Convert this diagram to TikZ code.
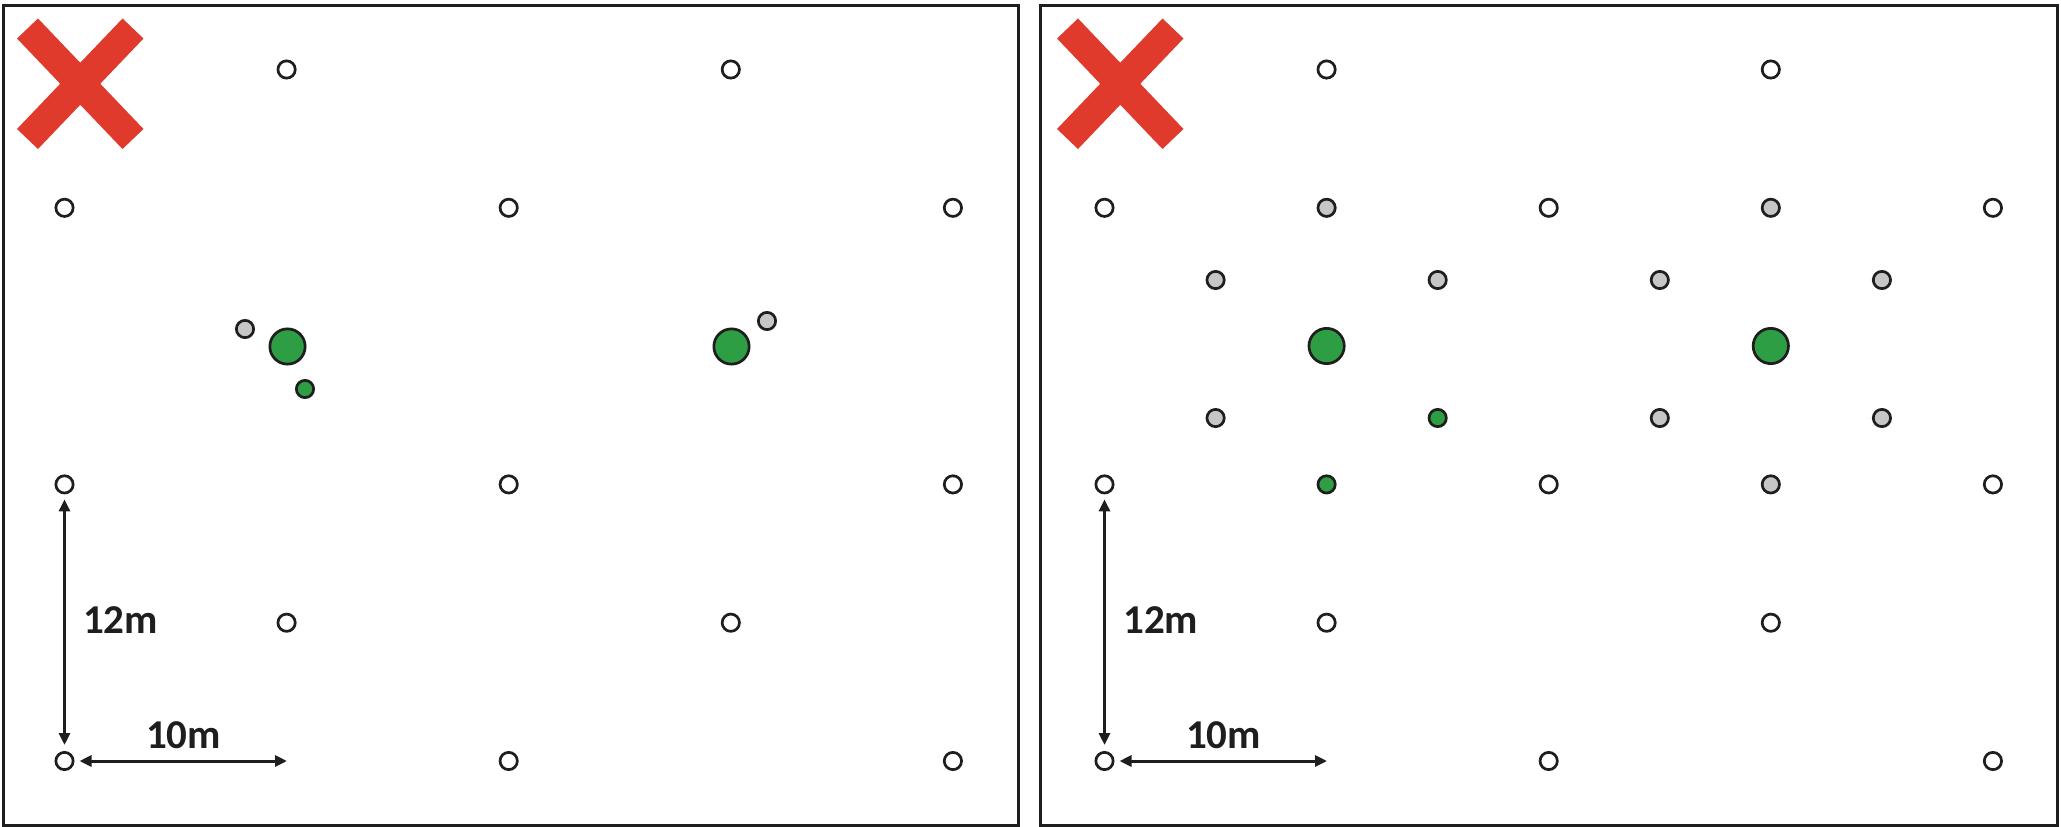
\documentclass[tikz,border=0pt]{standalone}
\usepackage{fontspec}
\setmainfont{Carlito}
\usetikzlibrary{arrows.meta,positioning}
\definecolor{crossred}{HTML}{E03A2C}
\definecolor{treegreen}{HTML}{2E9E45}
\definecolor{stemgray}{HTML}{C6C6C6}
\definecolor{inkdark}{HTML}{1E1E1E}

\begin{document}
\begin{tikzpicture}[x=1pt, y=-1pt,
  frame/.style={draw=inkdark, line width=3pt},
  hole/.style={circle, draw=inkdark, fill=white, line width=2.7pt, inner sep=0pt, minimum size=17.3pt},
  stem/.style={hole, fill=stemgray},
  sapling/.style={hole, fill=treegreen},
  bigtree/.style={hole, fill=treegreen, minimum size=35.3pt},
  dim/.style={{Triangle[length=12pt,width=11pt]}-{Triangle[length=12pt,width=11pt]}, draw=inkdark, line width=3pt},
  dimlabel/.style={font=\fontsize{41}{45}\selectfont\bfseries, text=inkdark, inner sep=0pt},
  nogo/.style={draw=crossred, line width=29pt}]
\useasboundingbox (0,0) rectangle (2061,827);
% two panels
\draw[frame] (3,5) rectangle (1018,825);
\draw[frame] (1040,5) rectangle (2057,825);
\draw[nogo] (27.5,28.5) -- (133,139) (133,28.5) -- (27.5,139);
\draw[nogo] (1067.5,28.5) -- (1173,139) (1173,28.5) -- (1067.5,139);
% left panel: grid holes and the trees
\foreach \c/\r in {1/0,3/0,0/1,2/1,4/1,0/3,2/3,4/3,1/4,3/4,0/5,2/5,4/5}
  \node[hole] (l\c\r) at ({64.5+222.1*\c},{69.5+138.3*\r}) {};
\node[bigtree] (lt1) at (287.5,346.5) {};
\node[bigtree] (lt2) at (731.5,346.5) {};
\node[stem] (ls1) at (245,329) {};
\node[stem] (ls2) at (767,321) {};
\node[sapling] (lg1) at (305,389) {};
% left panel: spacing
\coordinate (lend) at (287,761);
\draw[dim, shorten <=5pt, shorten >=6pt] (l03) -- (l05);
\draw[dim, shorten <=5pt] (l05) -- (lend);
\node[dimlabel, anchor=west] (l12m) at (83,620) {12m};
\node[dimlabel] (l10m) at (183.5,735) {10m};
% right panel: grid holes, stems and the trees
\foreach \c/\r in {1/0,3/0,0/1,2/1,4/1,0/3,2/3,4/3,1/4,3/4,0/5,2/5,4/5}
  \node[hole] (r\c\r) at ({1104.5+222.1*\c},{69.5+138.3*\r}) {};
\foreach \c/\r in {1/1,3/1,3/3}
  \node[stem] (r\c\r) at ({1104.5+222.1*\c},{69.5+138.3*\r}) {};
\foreach \k in {0,...,3}
  \node[stem] (ru\k) at ({1215.6+444.2*\k/2},280) {};
\foreach \k in {0,2,3}
  \node[stem] (rd\k) at ({1215.6+444.2*\k/2},418) {};
\node[sapling] (rd1) at (1437.7,418) {};
\node[sapling] (r13) at (1326.6,484.4) {};
\node[bigtree] (rt1) at (1326.6,346) {};
\node[bigtree] (rt2) at (1770.8,346) {};
% right panel: spacing
\coordinate (rend) at (1327,761);
\draw[dim, shorten <=5pt, shorten >=6pt] (r03) -- (r05);
\draw[dim, shorten <=5pt] (r05) -- (rend);
\node[dimlabel, anchor=west] (r12m) at (1123,620) {12m};
\node[dimlabel] (r10m) at (1223.5,735) {10m};
\end{tikzpicture}
\end{document}
